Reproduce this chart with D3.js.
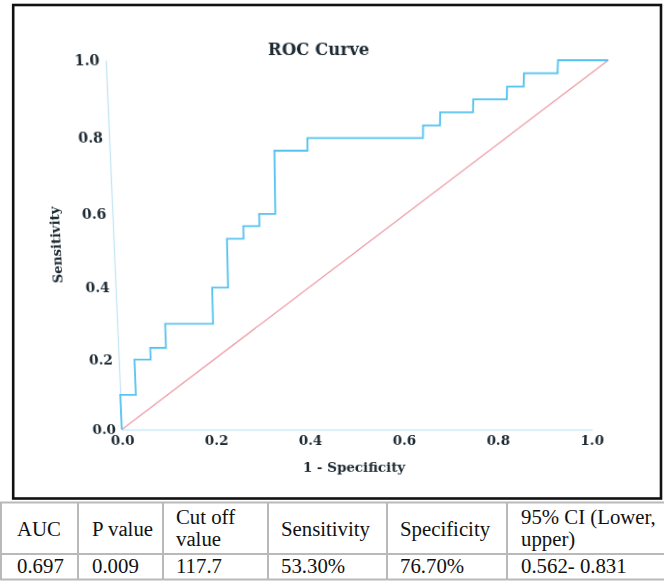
<!DOCTYPE html>
<html><head><meta charset="utf-8">
<script src="https://cdn.jsdelivr.net/npm/d3@7"></script>
<style>
body{margin:0;background:#fff}
#wrap{position:relative;width:664px;height:581px;overflow:hidden;background:#fff}
#wrap svg{position:absolute;left:0;top:0}
</style>
</head><body><div id="wrap"></div>
<script>
// ROC curve vertices (1 - specificity, sensitivity), step shape
const fpr = [0, 0, 0.033, 0.067, 0.1, 0.2, 0.233, 0.267, 0.3, 0.333, 0.4, 0.633, 0.667, 0.733, 0.8, 0.833, 0.9, 1.0];
const tpr = [0, 0.1, 0.2, 0.233, 0.3, 0.4, 0.533, 0.567, 0.6, 0.767, 0.8, 0.833, 0.867, 0.9, 0.933, 0.967, 1.0, 1.0];
// reference (chance) line
const refX = [0, 1];
const refY = [0, 1];
const xTicks = [0, 0.2, 0.4, 0.6, 0.8, 1.0];
const yTicks = [0, 0.2, 0.4, 0.6, 0.8, 1.0];
const chartTitle = "ROC Curve";
const xTitle = "1 - Specificity";
const yTitle = "Sensitivity";
// summary table
const tableHeaders = [["AUC"], ["P value"], ["Cut off", "value"], ["Sensitivity"], ["Specificity"], ["95% CI (Lower,", "upper)"]];
const tableValues = ["0.697", "0.009", "117.7", "53.30%", "76.70%", "0.562- 0.831"];

const wrap = d3.select("#wrap");
const base = wrap.append("svg").attr("width", 664).attr("height", 581);

// frame
base.append("rect").attr("x", 13.2).attr("y", 5).attr("width", 647.8).attr("height", 493.5)
  .attr("fill", "#fff").attr("stroke", "#111").attr("stroke-width", 2.6);

// table
const colX = [1, 78, 163, 268, 387, 507];
const rowY = [502.5, 554, 579.5];
const gridCol = "#b9b9b9";
rowY.forEach(y => base.append("line").attr("x1", 0).attr("x2", 664).attr("y1", y).attr("y2", y)
  .attr("stroke", gridCol).attr("stroke-width", 2));
colX.forEach(x => base.append("line").attr("x1", x).attr("x2", x).attr("y1", rowY[0]).attr("y2", rowY[2])
  .attr("stroke", gridCol).attr("stroke-width", 2));
const pads = [16, 14, 13, 13, 13, 14];
function cellText(str, x, y) {
  base.append("text").attr("transform", `translate(${x},${y}) scale(1.04,1)`)
    .attr("font-family", "'Liberation Serif','Times New Roman',serif").attr("font-size", 20)
    .attr("fill", "#111").text(str);
}
tableHeaders.forEach((lines, i) => {
  const x = colX[i] + pads[i];
  if (lines.length === 1) cellText(lines[0], x, 536);
  else { cellText(lines[0], x, 523.5); cellText(lines[1], x, 546); }
});
tableValues.forEach((v, i) => cellText(v, colX[i] + pads[i], 573));

// chart (photo perspective emulated with a CSS 3D tilt)
const plot = wrap.append("svg").attr("width", 664).attr("height", 520)
  .style("transform-origin", "357px 251px")
  .style("transform", "perspective(1500px) rotateX(-15deg)");

const x = d3.scaleLinear().domain([0, 1]).range([114, 600]);
const y = d3.scaleLinear().domain([0, 1]).range([442, 60]);
const fontF = "'DejaVu Serif','Liberation Serif',serif";
const textCol = "#1d2a33";
const axisCol = "#c6e5f5";

const gx = plot.append("g").attr("transform", `translate(0,${y(0)})`)
  .call(d3.axisBottom(x).tickValues(xTicks).tickFormat(d3.format(".1f")).tickSize(0).tickSizeOuter(0));
gx.select(".domain").attr("stroke", axisCol).attr("stroke-width", 1.3);
gx.selectAll("text").attr("y", 12).attr("dy", "0.35em")
  .attr("font-family", fontF).attr("font-weight", "bold").attr("font-size", 14).attr("fill", textCol);

const gy = plot.append("g").attr("transform", `translate(${x(0)},0)`)
  .call(d3.axisLeft(y).tickValues(yTicks).tickFormat(d3.format(".1f")).tickSize(0).tickSizeOuter(0).tickPadding(6));
gy.select(".domain").attr("stroke", axisCol).attr("stroke-width", 1.3);
gy.selectAll("text").attr("font-family", fontF).attr("font-weight", "bold").attr("font-size", 14).attr("fill", textCol);

// chance line
plot.append("path").datum(refX.map((d, i) => [d, refY[i]]))
  .attr("d", d3.line().x(d => x(d[0])).y(d => y(d[1])))
  .attr("fill", "none").attr("stroke", "#ec98a2").attr("stroke-width", 1.2);

// ROC step curve
plot.append("path").datum(fpr.map((d, i) => [d, tpr[i]]))
  .attr("d", d3.line().x(d => x(d[0])).y(d => y(d[1])).curve(d3.curveStepAfter))
  .attr("fill", "none").attr("stroke", "#55c2f0").attr("stroke-width", 1.8);

// titles
plot.append("text").attr("x", 320).attr("y", 49).attr("dy", "0.35em").attr("text-anchor", "middle")
  .attr("font-family", fontF).attr("font-weight", "bold").attr("font-size", 16).attr("fill", textCol).text(chartTitle);
plot.append("text").attr("x", 354).attr("y", 484).attr("dy", "0.35em").attr("text-anchor", "middle")
  .attr("font-family", fontF).attr("font-weight", "bold").attr("font-size", 14).attr("fill", textCol).text(xTitle);
plot.append("text").attr("transform", "translate(56,245) rotate(-90)").attr("dy", "0.35em").attr("text-anchor", "middle")
  .attr("font-family", fontF).attr("font-weight", "bold").attr("font-size", 13.5).attr("fill", textCol).text(yTitle);
</script></body></html>
